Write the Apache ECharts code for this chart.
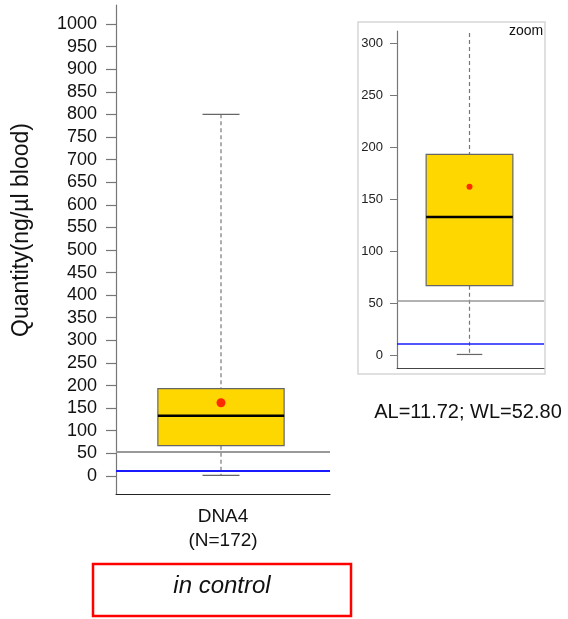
<!DOCTYPE html>
<html>
<head>
<meta charset="utf-8">
<script src="https://cdn.jsdelivr.net/npm/echarts@6/dist/echarts.min.js"></script>
<style>
  html, body { margin: 0; padding: 0; background: #fff; }
  #chart { width: 568px; height: 619px; }
</style>
</head>
<body>
<div id="chart"></div>
<script>
// Sample summary for the DNA4 control sample
const categories = ['DNA4\n(N=172)'];
const boxStats = [[1, 67, 133, 193, 800]];   // min, Q1, median, Q3, max
const means = [162];
const actionLimit = 11.72;
const warningLimit = 52.80;
const mainTicks = [0, 50, 100, 150, 200, 250, 300, 350, 400, 450, 500, 550, 600, 650, 700, 750, 800, 850, 900, 950, 1000];
const zoomTicks = [0, 50, 100, 150, 200, 250, 300];
const yTitle = 'Quantity(ng/µl blood)';
const statusText = 'in control';
const limitsText = 'AL=11.72; WL=52.80';

const FONT = '"Liberation Sans", Arial, sans-serif';

function makeBoxRender(boxFrac, capFrac, shift) {
  return function (params, api) {
    const x = api.value(0);
    const lo = api.coord([x, api.value(1)]);
    const q1 = api.coord([x, api.value(2)]);
    const med = api.coord([x, api.value(3)]);
    const q3 = api.coord([x, api.value(4)]);
    const hi = api.coord([x, api.value(5)]);
    const band = api.size([1, 0])[0];
    const bw = band * boxFrac;
    const cw = band * capFrac;
    const cx = lo[0] + shift;
    return {
      type: 'group',
      children: [
        { type: 'line', shape: { x1: cx, y1: hi[1], x2: cx, y2: q3[1] },
          style: { stroke: '#777', lineWidth: 1.2, lineDash: [4, 3] } },
        { type: 'line', shape: { x1: cx, y1: q1[1], x2: cx, y2: lo[1] },
          style: { stroke: '#777', lineWidth: 1.2, lineDash: [4, 3] } },
        { type: 'line', shape: { x1: cx - cw / 2, y1: hi[1], x2: cx + cw / 2, y2: hi[1] },
          style: { stroke: '#666', lineWidth: 1.2 } },
        { type: 'line', shape: { x1: cx - cw / 2, y1: lo[1], x2: cx + cw / 2, y2: lo[1] },
          style: { stroke: '#666', lineWidth: 1.2 } },
        { type: 'rect', shape: { x: cx - bw / 2, y: q3[1], width: bw, height: q1[1] - q3[1] },
          style: { fill: '#FFD700', stroke: '#666', lineWidth: 1.2 } },
        { type: 'line', shape: { x1: cx - bw / 2, y1: med[1], x2: cx + bw / 2, y2: med[1] },
          style: { stroke: '#000', lineWidth: 2.5 } }
      ]
    };
  };
}

function boxData() {
  return boxStats.map((b, i) => [i].concat(b));
}

function limitLines(lw) {
  return {
    silent: true,
    symbol: 'none',
    label: { show: false },
    data: [
      { yAxis: warningLimit, lineStyle: { color: '#999', width: lw, type: 'solid' } },
      { yAxis: actionLimit, lineStyle: { color: '#1a1aff', width: lw, type: 'solid' } }
    ]
  };
}

const plain = v => String(v);

const chart = echarts.init(document.getElementById('chart'), null, { renderer: 'canvas' });

chart.setOption({
  animation: false,
  backgroundColor: '#fff',
  grid: [
    { left: 116, top: 5, width: 214, height: 489 },
    { left: 397, top: 31, width: 147, height: 337 }
  ],
  xAxis: [
    {
      gridIndex: 0, type: 'category', data: categories,
      axisLine: { onZero: false, lineStyle: { color: '#222', width: 1 } },
      axisTick: { show: false },
      axisLabel: { color: '#111', fontSize: 19, fontFamily: FONT, lineHeight: 24, margin: 11 }
    },
    {
      gridIndex: 1, type: 'category', data: categories,
      axisLine: { onZero: false, lineStyle: { color: '#444', width: 1 } },
      axisTick: { show: false },
      axisLabel: { show: false }
    }
  ],
  yAxis: [
    {
      gridIndex: 0, type: 'value', min: -40, max: 1042,
      axisLine: { show: true, lineStyle: { color: '#777', width: 1.2 } },
      axisTick: { show: true, length: 10, customValues: mainTicks, lineStyle: { color: '#777', width: 1.2 } },
      axisLabel: { customValues: mainTicks, formatter: plain, color: '#111', fontSize: 18, fontFamily: FONT, margin: 19 },
      splitLine: { show: false }
    },
    {
      gridIndex: 1, type: 'value', min: -12, max: 311.5,
      axisLine: { show: true, lineStyle: { color: '#777', width: 1.2 } },
      axisTick: { show: true, length: 7, customValues: zoomTicks, lineStyle: { color: '#777', width: 1 } },
      axisLabel: { customValues: zoomTicks, formatter: plain, color: '#222', fontSize: 13, fontFamily: FONT, margin: 14 },
      splitLine: { show: false }
    }
  ],
  series: [
    {
      type: 'custom', xAxisIndex: 0, yAxisIndex: 0,
      renderItem: makeBoxRender(0.59, 0.173, -2),
      data: boxData(),
      encode: { x: 0, y: [1, 2, 3, 4, 5] },
      markLine: limitLines(2),
      z: 2
    },
    {
      type: 'scatter', xAxisIndex: 0, yAxisIndex: 0,
      data: means.map((m, i) => [i, m]),
      symbol: 'circle', symbolSize: 9, symbolOffset: [-2, 0],
      itemStyle: { color: '#ff0000' }, z: 5
    },
    {
      type: 'custom', xAxisIndex: 1, yAxisIndex: 1,
      renderItem: makeBoxRender(0.59, 0.174, -1),
      data: boxData(),
      encode: { x: 0, y: [1, 2, 3, 4, 5] },
      markLine: limitLines(1.5),
      clip: true,
      z: 2
    },
    {
      type: 'scatter', xAxisIndex: 1, yAxisIndex: 1,
      data: means.map((m, i) => [i, m]),
      symbol: 'circle', symbolSize: 6, symbolOffset: [-1, 0],
      itemStyle: { color: '#ff0000' }, z: 5
    }
  ],
  graphic: [
    {
      type: 'text', x: 22, y: 230, rotation: Math.PI / 2,
      style: { text: yTitle, fill: '#111', fontSize: 23, fontFamily: FONT, align: 'center', verticalAlign: 'middle' }
    },
    {
      type: 'rect', z: -1,
      shape: { x: 358, y: 22, width: 187, height: 352 },
      style: { fill: '#fff', stroke: '#d6d6d6', lineWidth: 1.5 }
    },
    {
      type: 'text', x: 509, y: 31,
      style: { text: 'zoom', fill: '#111', fontSize: 14, fontFamily: FONT, align: 'left', verticalAlign: 'middle' }
    },
    {
      type: 'text', x: 468, y: 412,
      style: { text: limitsText, fill: '#111', fontSize: 20, fontFamily: FONT, align: 'center', verticalAlign: 'middle' }
    },
    {
      type: 'rect',
      shape: { x: 93, y: 564, width: 258, height: 52 },
      style: { fill: 'none', stroke: '#ff0000', lineWidth: 2.5 }
    },
    {
      type: 'text', x: 222, y: 586,
      style: {
        text: statusText, fill: '#111', fontSize: 24, fontStyle: 'italic', fontFamily: FONT,
        align: 'center', verticalAlign: 'middle'
      }
    }
  ]
});
</script>
</body>
</html>
